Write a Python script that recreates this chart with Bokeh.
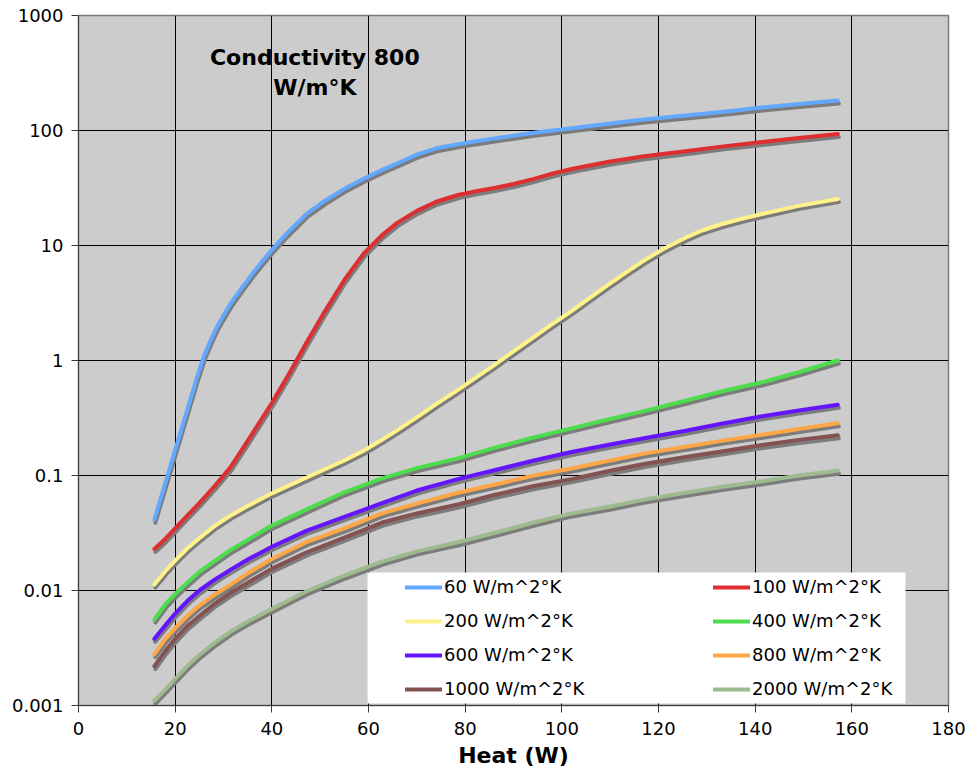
from bokeh.plotting import figure
from bokeh.models import (Range1d, LinearScale, LogScale, FixedTicker, Legend,
                          LegendItem, BoxAnnotation, Label)
from bokeh.embed import file_html
from bokeh.resources import INLINE

# Heat input (W) – shared sampling for the flatter curves
heat = [15.7, 18, 20, 22.5, 25, 28, 31.4, 35, 40, 47.1, 55, 62.8, 70, 78.5,
        86, 94.2, 102, 110, 117, 125.6, 133, 141.4, 149, 157.1]

# finer sampling where the steep curves bend
heat_60 = [15.7, 17, 18.5, 20, 21.5, 23, 24.5, 26, 27.5, 29, 31.4, 33.5, 36, 38,
           40, 43, 47.1, 51, 55, 59, 62.8, 66, 70, 74, 78.5, 82, 86, 90, 94.2,
           102, 110, 117, 125.6, 133, 141.4, 149, 157.1]
heat_100 = [15.7, 18, 20, 22.5, 25, 28, 31.4, 35, 40, 43.5, 47.1, 51, 55, 59,
            62.8, 66, 70, 74, 78.5, 82, 86, 90, 94.2, 98, 102, 110, 117, 125.6,
            133, 141.4, 149, 157.1]
heat_200 = [15.7, 18, 20, 22.5, 25, 28, 31.4, 35, 40, 47.1, 55, 59, 62.8, 66, 70,
            74, 78.5, 82, 86, 90, 94.2, 98, 102, 106, 110, 114, 117, 121, 125.6,
            129, 133, 137, 141.4, 149, 157.1]

# Temperature rise for each heat transfer coefficient
h60 = [0.0412, 0.063, 0.102, 0.166, 0.269, 0.437, 0.708, 1.1, 1.55, 2.09, 3.09,
       4.12, 5.7, 7.25, 9.16, 12.6, 18.7, 24.5, 31.1, 38.1, 45.4, 51.9, 61.7,
       70, 75.9, 80.4, 85.1, 90.2, 95.5, 104.7, 114.8, 124.5, 134.9, 144.5,
       158.5, 169.8, 182]
h100 = [0.023, 0.0282, 0.0347, 0.0447, 0.0575, 0.0794, 0.117, 0.2, 0.427, 0.759,
        1.41, 2.69, 5.01, 8.51, 12.3, 15.8, 20, 24, 27.5, 29.5, 31.6, 34.3, 38,
        42.2, 46.2, 53.7, 59.6, 66.1, 72.4, 79.4, 86.1, 93.3]
h200 = [0.01127, 0.0148, 0.0182, 0.0232, 0.0285, 0.0359, 0.0447, 0.0543, 0.07,
        0.0955, 0.135, 0.164, 0.204, 0.248, 0.32, 0.417, 0.556, 0.7, 0.912, 1.2,
        1.6, 2.07, 2.69, 3.55, 4.68, 6.1, 7.41, 9.33, 11.7, 13.5, 15.3, 17, 18.8,
        22.1, 25.4]
h400 = [0.0056, 0.0076, 0.0093, 0.0117, 0.0145, 0.0178, 0.0224, 0.0275, 0.0367,
        0.0505, 0.0715, 0.0944, 0.116, 0.141, 0.174, 0.214, 0.257, 0.31, 0.363,
        0.447, 0.537, 0.646, 0.79, 1.0]
h600 = [0.0038, 0.005, 0.0063, 0.0081, 0.01, 0.0123, 0.0151, 0.0186, 0.024,
        0.033, 0.0437, 0.0575, 0.074, 0.093, 0.111, 0.135, 0.16, 0.186, 0.211,
        0.245, 0.282, 0.327, 0.367, 0.412]
h800 = [0.0028, 0.0038, 0.0047, 0.006, 0.0074, 0.0091, 0.0112, 0.0141, 0.0188,
        0.0263, 0.0347, 0.0468, 0.057, 0.0708, 0.083, 0.1, 0.115, 0.135, 0.155,
        0.178, 0.2, 0.226, 0.254, 0.285]
h1000 = [0.0022, 0.003, 0.0038, 0.0049, 0.006, 0.0076, 0.0095, 0.0117, 0.0155,
         0.0214, 0.0288, 0.039, 0.0468, 0.056, 0.0676, 0.081, 0.093, 0.11, 0.126,
         0.145, 0.162, 0.184, 0.204, 0.224]
h2000 = [0.0011, 0.00138, 0.0017, 0.0022, 0.00275, 0.00347, 0.00437, 0.00537,
         0.0069, 0.0098, 0.0135, 0.0178, 0.0219, 0.0263, 0.0316, 0.039, 0.0468,
         0.0537, 0.0617, 0.0708, 0.0794, 0.089, 0.1, 0.11]

series_names = ["60 W/m^2°K", "100 W/m^2°K", "200 W/m^2°K", "400 W/m^2°K",
                "600 W/m^2°K", "800 W/m^2°K", "1000 W/m^2°K", "2000 W/m^2°K"]
series_x = [heat_60, heat_100, heat_200, heat, heat, heat, heat, heat]
series_values = [h60, h100, h200, h400, h600, h800, h1000, h2000]
series_colors = ["#62A8FF", "#DE2E30", "#FFF28A", "#4CDC4C",
                 "#6414FF", "#FFA646", "#855252", "#9DBB8E"]

x_ticks = [0, 20, 40, 60, 80, 100, 120, 140, 160, 180]
y_ticks = [0.001, 0.01, 0.1, 1, 10, 100, 1000]
y_tick_labels = ["0.001", "0.01", "0.1", "1", "10", "100", "1000"]

FONT = "DejaVu Sans"

p = figure(width=972, height=780, x_range=Range1d(0, 180),
           y_range=Range1d(0.001, 1000), y_axis_type="log",
           output_backend="svg", toolbar_location=None,
           min_border_left=78, min_border_right=24, min_border_top=15,
           min_border_bottom=75, background_fill_color="#CCCCCC",
           border_fill_color="white", outline_line_color="#7A7A7A",
           outline_line_width=1.5)

# shifted ranges used to draw the drop shadow a few pixels right/down
p.extra_x_ranges = {"shadow": Range1d(-0.21, 180 - 0.21)}
p.extra_y_ranges = {"shadow": Range1d(0.001 * 1.062, 1000 * 1.062)}
p.extra_x_scales = {"shadow": LinearScale()}
p.extra_y_scales = {"shadow": LogScale()}

# axes
p.xaxis.ticker = FixedTicker(ticks=x_ticks)
p.yaxis.ticker = FixedTicker(ticks=y_ticks)
p.yaxis.major_label_overrides = {t: s for t, s in zip(y_ticks, y_tick_labels)}
for ax in (p.xaxis, p.yaxis):
    ax.axis_line_color = "#3A3A3A"
    ax.major_tick_line_color = "#3A3A3A"
    ax.major_tick_out = 7
    ax.major_tick_in = 0
    ax.minor_tick_line_color = None
    ax.major_label_text_font = FONT
    ax.major_label_text_font_size = "18px"
    ax.major_label_text_color = "black"
p.yaxis.major_label_standoff = 8
p.xaxis.major_label_standoff = 9
p.xaxis.axis_label = "Heat (W)"
p.xaxis.axis_label_text_font = FONT
p.xaxis.axis_label_text_font_style = "bold"
p.xaxis.axis_label_text_font_size = "22px"
p.xaxis.axis_label_text_color = "black"
p.xaxis.axis_label_standoff = 5

for g in (p.xgrid, p.ygrid):
    g.grid_line_color = "black"
    g.grid_line_width = 1
    g.grid_line_alpha = 1

renderers = []
for xs, vals, col in zip(series_x, series_values, series_colors):
    p.line(xs, vals, line_color="#7C7C7C", line_width=4, line_cap="round",
           line_join="round", x_range_name="shadow", y_range_name="shadow")
    r = p.line(xs, vals, line_color=col, line_width=4, line_cap="round",
               line_join="round")
    renderers.append(r)

# white panel behind the legend
p.add_layout(BoxAnnotation(left=59.8, right=171.1, bottom=0.00104, top=0.01435,
                           fill_color="white", fill_alpha=1, line_alpha=0))


def make_legend(idx, x0):
    items = [LegendItem(label=series_names[i], renderers=[renderers[i]]) for i in idx]
    lg = Legend(items=items, location=(x0, 6), orientation="vertical",
                padding=0, margin=0, spacing=13, glyph_width=37, glyph_height=20,
                label_standoff=2, label_height=20,
                label_text_font=FONT, label_text_font_size="18px",
                label_text_color="black",
                background_fill_alpha=0, border_line_alpha=0)
    return lg


p.add_layout(make_legend([0, 2, 4, 6], 327))
p.add_layout(make_legend([1, 3, 5, 7], 635))

p.add_layout(Label(x=48.9, y=431, text="Conductivity 800", text_align="center",
                   text_baseline="middle", text_font=FONT, text_font_style="bold",
                   text_font_size="22px", text_color="black"))
p.add_layout(Label(x=48.9, y=236, text="W/m°K", text_align="center",
                   text_baseline="middle", text_font=FONT, text_font_style="bold",
                   text_font_size="22px", text_color="black"))

open("out.html", "w").write(file_html(p, INLINE))
